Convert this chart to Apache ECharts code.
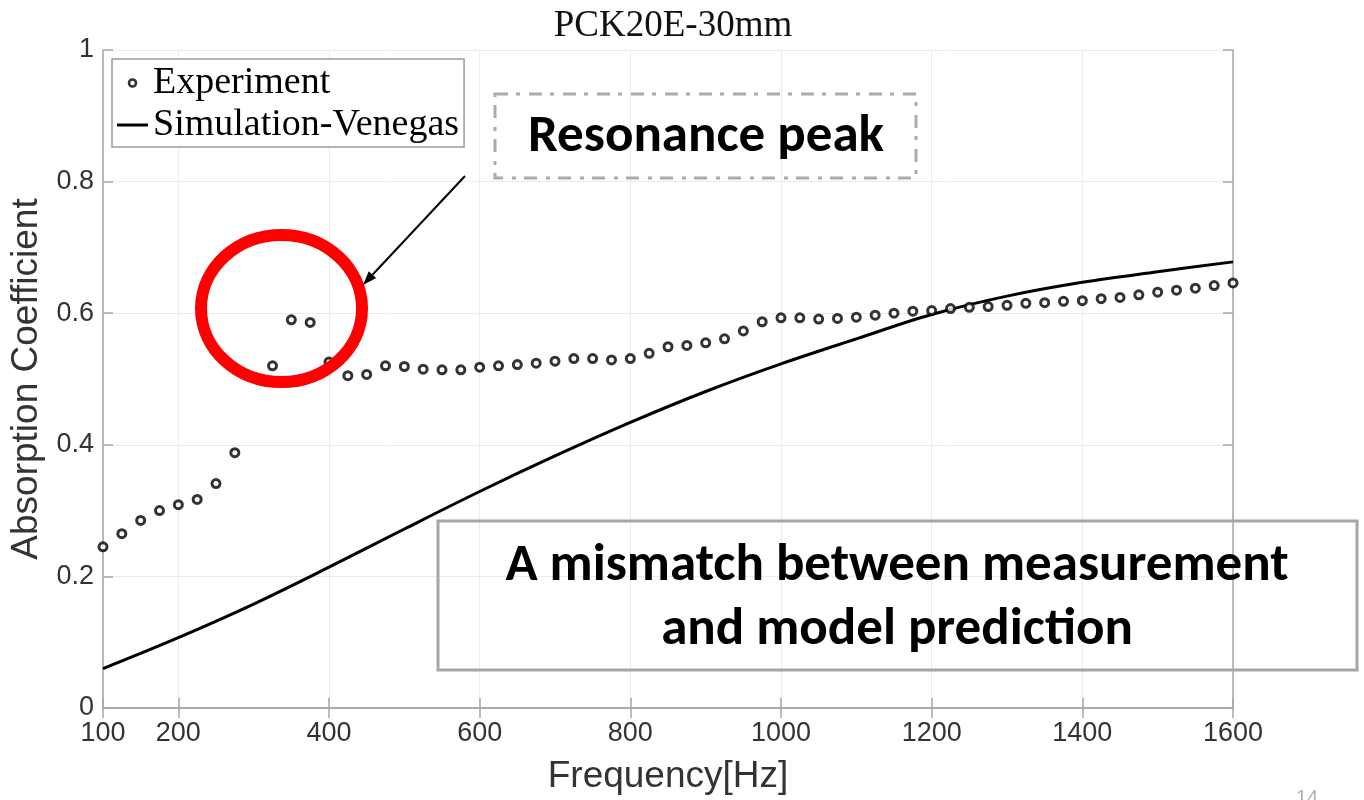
<!DOCTYPE html>
<html>
<head>
<meta charset="utf-8">
<script src="https://cdn.jsdelivr.net/npm/echarts@6/dist/echarts.min.js"></script>
<style>
  html, body { margin: 0; padding: 0; background: #fff; }
  #chart { width: 1364px; height: 800px; }
</style>
</head>
<body>
<div id="chart"></div>
<script>
// Measured absorption coefficient (impedance tube), 25 Hz steps
const expFreq = [100, 125, 150, 175, 200, 225, 250, 275, 325, 350, 375, 400, 425, 450, 475,
  500, 525, 550, 575, 600, 625, 650, 675, 700, 725, 750, 775, 800, 825, 850, 875, 900,
  925, 950, 975, 1000, 1025, 1050, 1075, 1100, 1125, 1150, 1175, 1200, 1225, 1250, 1275,
  1300, 1325, 1350, 1375, 1400, 1425, 1450, 1475, 1500, 1525, 1550, 1575, 1600];
const expAlpha = [0.245, 0.265, 0.285, 0.300, 0.309, 0.317, 0.341, 0.388, 0.520, 0.590, 0.586,
  0.526, 0.505, 0.507, 0.520, 0.519, 0.515, 0.514, 0.514, 0.518, 0.520, 0.522, 0.524, 0.527,
  0.531, 0.531, 0.529, 0.531, 0.539, 0.549, 0.551, 0.555, 0.561, 0.573, 0.587, 0.593, 0.593,
  0.591, 0.592, 0.594, 0.597, 0.600, 0.603, 0.604, 0.607, 0.609, 0.610, 0.612, 0.615, 0.616,
  0.618, 0.619, 0.622, 0.624, 0.628, 0.632, 0.635, 0.638, 0.642, 0.646];

// Venegas model prediction
const simFreq = [100, 200, 300, 400, 500, 600, 700, 800, 900, 1000, 1100, 1200, 1300, 1400, 1500, 1600];
const simAlpha = [0.060, 0.107, 0.158, 0.214, 0.272, 0.329, 0.383, 0.434, 0.481, 0.523,
  0.561, 0.598, 0.626, 0.647, 0.663, 0.678];

const xTicks = [100, 200, 400, 600, 800, 1000, 1200, 1400, 1600];

const chartTitle = 'PCK20E-30mm';
const seriesNames = ['Experiment', 'Simulation-Venegas'];
const xName = 'Frequency[Hz]';
const yName = 'Absorption Coefficient';
const noteResonance = 'Resonance peak';
const noteMismatch = ['A mismatch between measurement', 'and model prediction'];

const zip = (xs, ys) => xs.map((x, i) => [x, ys[i]]);

const AXIS_COLOR = '#a6a6a6';
const TEXT_COLOR = '#333';
const SANS = '"Liberation Sans", Arial, sans-serif';
const SERIF = '"Liberation Serif", "DejaVu Serif", serif';
const CALLOUT = 'Carlito, Lato, "Open Sans", sans-serif';

const chart = echarts.init(document.getElementById('chart'), null, { renderer: 'canvas' });

const mirrorAxis = {
  axisLine: { show: true, lineStyle: { color: AXIS_COLOR, width: 1.5 } },
  axisLabel: { show: false },
  splitLine: { show: false }
};

chart.setOption({
  animation: false,
  backgroundColor: '#fff',
  title: {
    text: chartTitle,
    left: 668,
    top: 3,
    textAlign: 'center',
    textStyle: { fontFamily: SERIF, fontSize: 37, fontWeight: 'normal', color: '#111' }
  },
  legend: {
    orient: 'vertical',
    left: 112,
    top: 59,
    padding: [5, 5, 3, 5],
    itemGap: 4,
    itemWidth: 31,
    itemHeight: 7,
    selectedMode: false,
    borderColor: '#9a9a9a',
    borderWidth: 1.5,
    backgroundColor: '#fff',
    textStyle: { fontFamily: SERIF, fontSize: 38, color: '#000', lineHeight: 38 },
    data: [
      { name: seriesNames[0], icon: 'circle',
        itemStyle: { color: '#fff', borderColor: '#000', borderWidth: 2.6 } },
      { name: seriesNames[1], icon: 'path://M0,0H31V3H0Z',
        itemStyle: { color: '#000', borderWidth: 0 } }
    ]
  },
  grid: { left: 103, right: 131, top: 50, bottom: 92, containLabel: false, outerBoundsMode: 'none' },
  xAxis: [
    {
      type: 'value', position: 'bottom', min: 100, max: 1600,
      name: xName, nameLocation: 'middle', nameGap: 50,
      nameTextStyle: { fontFamily: SANS, fontSize: 37, color: TEXT_COLOR, verticalAlign: 'top' },
      axisLine: { show: true, onZero: false, lineStyle: { color: AXIS_COLOR, width: 1.5 } },
      axisTick: { show: true, inside: true, length: 10, customValues: xTicks,
        lineStyle: { color: AXIS_COLOR, width: 1.5 } },
      axisLabel: { customValues: xTicks, margin: 12, fontFamily: SANS, fontSize: 27, color: TEXT_COLOR,
        formatter: v => String(v) },
      splitLine: { show: true, lineStyle: { color: '#ebebeb', width: 1 } }
    },
    Object.assign({}, mirrorAxis, {
      type: 'value', position: 'top', min: 100, max: 1600,
      axisTick: { show: true, inside: true, length: 10, customValues: xTicks,
        lineStyle: { color: AXIS_COLOR, width: 1.5 } }
    })
  ],
  yAxis: [
    {
      type: 'value', position: 'left', min: 0, max: 1, interval: 0.2,
      name: yName, nameLocation: 'middle', nameGap: 56, nameRotate: 90,
      nameTextStyle: { fontFamily: SANS, fontSize: 37, color: TEXT_COLOR },
      axisLine: { show: true, onZero: false, lineStyle: { color: AXIS_COLOR, width: 1.5 } },
      axisTick: { show: true, inside: true, length: 10, lineStyle: { color: AXIS_COLOR, width: 1.5 } },
      axisLabel: { margin: 9, fontFamily: SANS, fontSize: 27, color: TEXT_COLOR,
        formatter: v => String(+v.toFixed(1)) },
      splitLine: { show: true, lineStyle: { color: '#ebebeb', width: 1 } }
    },
    Object.assign({}, mirrorAxis, {
      type: 'value', position: 'right', min: 0, max: 1, interval: 0.2,
      axisTick: { show: true, inside: true, length: 10, lineStyle: { color: AXIS_COLOR, width: 1.5 } }
    })
  ],
  series: [
    {
      name: seriesNames[1],
      type: 'line',
      data: zip(simFreq, simAlpha),
      smooth: 0.35,
      symbol: 'none',
      lineStyle: { color: '#000', width: 3 },
      z: 2
    },
    {
      name: seriesNames[0],
      type: 'scatter',
      data: zip(expFreq, expAlpha),
      symbol: 'circle',
      symbolSize: 8,
      itemStyle: { color: '#fff', borderColor: '#000', borderWidth: 3 },
      z: 3
    }
  ],
  graphic: [
    // red ring around the resonance
    { type: 'ellipse', z: 50, shape: { cx: 281.5, cy: 308.5, rx: 80.5, ry: 73.5 },
      style: { fill: null, stroke: '#ff0000', lineWidth: 12 } },
    // arrow from the label to the ring
    { type: 'line', z: 50, shape: { x1: 465, y1: 176, x2: 372.5, y2: 274.7 },
      style: { stroke: '#000', lineWidth: 2 } },
    { type: 'polygon', z: 50, shape: { points: [[363, 285], [376.2, 278.1], [368.8, 271.3]] },
      style: { fill: '#000' } },
    // dash-dot callout box
    { type: 'rect', z: 50, shape: { x: 495, y: 94, width: 421, height: 84 },
      style: { fill: null, stroke: '#ababab', lineWidth: 3, lineDash: [13, 8, 4, 9] } },
    { type: 'text', z: 51, x: 706, y: 138,
      style: { text: noteResonance, align: 'center', verticalAlign: 'middle',
        font: 'bold 53px ' + CALLOUT, fill: '#000' } },
    // mismatch callout box
    { type: 'rect', z: 50, shape: { x: 438, y: 521, width: 919, height: 149 },
      style: { fill: null, stroke: '#a6a6a6', lineWidth: 3 } },
    { type: 'text', z: 51, x: 897, y: 567,
      style: { text: noteMismatch[0], align: 'center', verticalAlign: 'middle',
        font: 'bold 53px ' + CALLOUT, fill: '#000' } },
    { type: 'text', z: 51, x: 897, y: 631,
      style: { text: noteMismatch[1], align: 'center', verticalAlign: 'middle',
        font: 'bold 53px ' + CALLOUT, fill: '#000' } },
    // slide number
    { type: 'text', z: 51, x: 1296, y: 788,
      style: { text: '14', font: '20px ' + SANS, fill: '#b0b0b0' } }
  ]
});
</script>
</body>
</html>
